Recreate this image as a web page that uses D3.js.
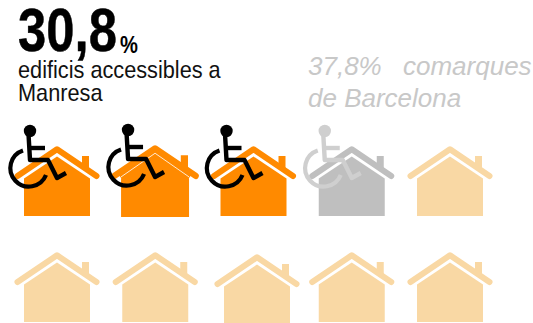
<!DOCTYPE html>
<html><head><meta charset="utf-8">
<style>html,body{margin:0;padding:0;background:#fff}svg{display:block}</style>
<script src="https://cdn.jsdelivr.net/npm/d3@7"></script></head>
<body><svg id="c" width="533" height="323"></svg>
<script>
const manresaPct = 30.8;
const comarquesPct = 37.8;
const pctPerHouse = 10;
const columns = [0, 1, 2, 3, 4];
const rows = [0, 1];
const headlineValue = "30,8";
const headlineLines = ["edificis accessibles a", "Manresa"];
const compareLines = ["37,8%", "comarques", "de Barcelona"];
const colors = { orange: "#ff8a00", grey: "#bfbfbf", pale: "#f9d8a4", chair: "#000", chairGrey: "#cfcfcf", muted: "#c8c8c8" };

const svg = d3.select("#c");
const x = d3.scalePoint().domain(columns).range([57, 450]);
const y = d3.scalePoint().domain(rows).range([146, 252]);

// Hand-placed glyphs sit a little off the grid; the second one is also slightly larger.
const tweaks = {
  "0-1": { dx: -0.2, dy: -1, scale: 1.03, gap: 1 },
  "1-2": { dx: 3.5, dy: 2 }
};

// House glyph with its origin at the roof peak.
function drawHouse(g, fill, gap) {
  g.append("path").attr("d", "M25,9 L32,9 L32,26 L25,22 Z").attr("transform", "translate(0,1)").attr("fill", fill);
  g.append("path").attr("d", "M-33,32.5 L0,10.5 L33,32.5 L33,70 L-33,70 Z").attr("fill", fill);
  g.append("path").attr("d", "M-39.5,30 L0,3.3 L39.5,30").attr("fill", "none")
    .attr("stroke", fill).attr("stroke-width", 6).attr("stroke-linecap", "round").attr("stroke-linejoin", "round");
  if (gap) {
    // Thin-gapped variant: the band under the roof is filled, leaving a hairline.
    g.append("path").attr("d", "M-33,32 L0,9 L33,32").attr("fill", "none")
      .attr("stroke", fill).attr("stroke-width", 6);
    g.append("path").attr("d", "M-33,31 L0,8 L33,31").attr("fill", "none")
      .attr("stroke", "#fff").attr("stroke-width", gap * 0.8);
  }
}

// Wheelchair symbol in the same coordinates as the house.
function drawChair(g, color) {
  g.attr("fill", "none").attr("stroke", color).attr("stroke-linejoin", "round");
  g.append("circle").attr("cx", -27).attr("cy", -15).attr("r", 6.2).attr("fill", color).attr("stroke", "none");
  g.append("path").attr("d", "M-28.5,-12 L-27,14 L-9,14 L0,32 L9,27").attr("stroke-width", 4.4);
  g.append("path").attr("d", "M-27,2 L-12,2").attr("stroke-width", 4.4);
  g.append("path").attr("d", "M-34,4.5 A18.5,18.5 0 1 0 -11,29").attr("stroke-width", 4.2);
}

const manresaHouses = Math.round(manresaPct / pctPerHouse);
const comarquesHouses = Math.round(comarquesPct / pctPerHouse);
const cells = d3.cross(rows, columns).map(([r, c]) => ({ r, c, i: r * columns.length + c }));

cells.forEach(d => {
  const t = tweaks[`${d.r}-${d.c}`] || {};
  const g = svg.append("g")
    .attr("transform", `translate(${x(d.c) + (t.dx || 0)},${y(d.r) + (t.dy || 0)})`);
  const house = g.append("g").attr("transform", `scale(${t.scale || 1})`);
  const fill = d.i < manresaHouses ? colors.orange : d.i < comarquesHouses ? colors.grey : colors.pale;
  drawHouse(house, fill, t.gap);
  if (d.i < comarquesHouses) {
    drawChair(g.append("g"), d.i < manresaHouses ? colors.chair : colors.chairGrey);
  }
});

// Condensed text: the sans face squeezed horizontally about its left edge.
function squeezed(px, py, k) {
  return svg.append("text").attr("transform", `translate(${px},${py}) scale(${k},1)`)
    .attr("font-family", "Liberation Sans");
}

squeezed(18, 51, 0.82).attr("font-weight", "bold").attr("font-size", 62).attr("fill", "#000")
  .attr("stroke", "#000").attr("stroke-width", 0.5).text(headlineValue);
squeezed(120, 53, 0.84).attr("font-weight", "bold").attr("font-size", 24).attr("fill", "#000").text("%");
squeezed(18, 77.5, 0.905).attr("font-size", 24).attr("fill", "#111").text(headlineLines[0]);
squeezed(18, 101, 0.905).attr("font-size", 24).attr("fill", "#111").text(headlineLines[1]);

// Comparison caption
const cmp = svg.append("g").attr("font-family", "Liberation Sans").attr("font-style", "italic")
  .attr("font-size", 26).attr("fill", colors.muted);
cmp.append("text").attr("x", 308).attr("y", 75).text(compareLines[0]);
cmp.append("text").attr("x", 403).attr("y", 75).text(compareLines[1]);
cmp.append("text").attr("x", 308).attr("y", 107).text(compareLines[2]);
</script></body></html>
